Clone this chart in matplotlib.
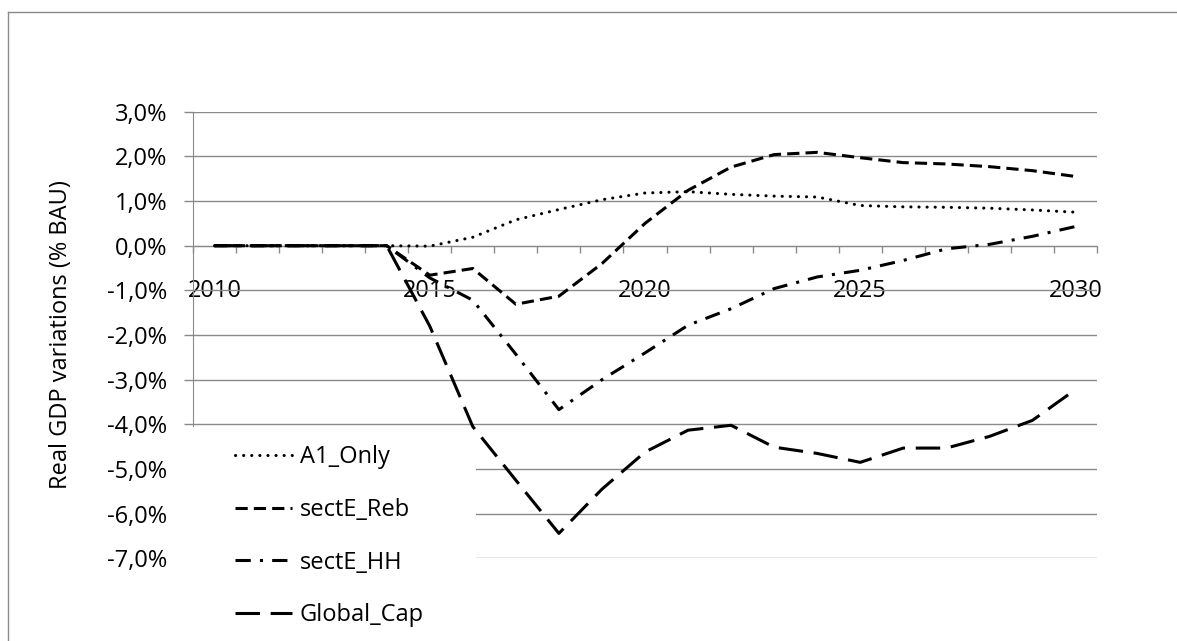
import matplotlib
matplotlib.use('Agg')
import matplotlib.pyplot as plt
from matplotlib.lines import Line2D
from matplotlib.patches import Rectangle
from matplotlib.ticker import FixedLocator, FuncFormatter
import numpy as np

# --- Data (real GDP variation, % of BAU) ---
years = list(range(2010, 2031))
a1_only = [0, 0, 0, 0, 0, -0.01, 0.19, 0.58, 0.81, 1.03, 1.18,
           1.21, 1.15, 1.11, 1.09, 0.90, 0.87, 0.86, 0.84, 0.80, 0.75]
sect_e_reb = [0, 0, 0, 0, 0, -0.66, -0.51, -1.31, -1.13, -0.40, 0.50,
              1.24, 1.76, 2.04, 2.09, 1.97, 1.86, 1.83, 1.77, 1.68, 1.55]
sect_e_hh = [0, 0, 0, 0, 0, -0.72, -1.22, -2.43, -3.67, -3.00, -2.40,
             -1.78, -1.41, -0.96, -0.70, -0.55, -0.33, -0.07, 0.03, 0.21, 0.43]
global_cap = [0, 0, 0, 0, 0, -1.80, -4.05, -5.25, -6.44, -5.45, -4.62,
              -4.13, -4.02, -4.51, -4.65, -4.85, -4.53, -4.53, -4.27, -3.91, -3.22]
series_names = ['A1_Only', 'sectE_Reb', 'sectE_HH', 'Global_Cap']
shown_years = [2010, 2015, 2020, 2025, 2030]

plt.rcParams['font.family'] = ['Open Sans', 'DejaVu Sans']
W, H = 1177, 641
fig = plt.figure(figsize=(W / 100, H / 100), dpi=100)
grid_col = '#8a8a8a'

# plot area in pixel terms (left 193, right 1097, top 111.7, bottom 558.4)
ax = fig.add_axes([193 / W, 1 - 558.4 / H, 904 / W, 446.7 / H])

x = np.arange(len(years))
lw = 2.2
styles = [
    dict(dashes=(0.05, 2.6), dash_capstyle='round'),
    dict(dashes=(4, 2), dash_capstyle='butt'),
    dict(dashes=(5, 3, 1, 3), dash_capstyle='butt'),
    dict(dashes=(8, 3.5), dash_capstyle='butt'),
]
for vals, name, st in zip([a1_only, sect_e_reb, sect_e_hh, global_cap], series_names, styles):
    ax.plot(x, vals, color='black', lw=lw, label=name, zorder=3, **st)

ax.set_xlim(-0.5, len(years) - 0.5)
ax.set_ylim(-7, 3)
ax.set_yticks(np.arange(-7, 3.1, 1))
ax.yaxis.set_major_formatter(FuncFormatter(lambda v, p: f"{v:.1f}%".replace('.', ',')))
ax.grid(axis='y', color=grid_col, lw=1.0)
ax.set_axisbelow(True)

# category axis crossing at zero, labels every 5 years
ax.xaxis.set_major_locator(FixedLocator([years.index(y) for y in shown_years]))
ax.set_xticklabels([str(y) for y in shown_years])
ax.xaxis.set_minor_locator(FixedLocator(np.arange(-0.5, len(years), 1.0)))
ax.tick_params(axis='x', which='major', length=0, pad=24, labelsize=17)
ax.tick_params(axis='x', which='minor', length=5, width=1.0, color=grid_col, direction='out')
ax.tick_params(axis='y', length=6.5, width=1.0, color=grid_col, pad=12, labelsize=17)

for s in ['top', 'right']:
    ax.spines[s].set_visible(False)
ax.spines['bottom'].set_position(('data', 0))
ax.spines['bottom'].set_color(grid_col)
ax.spines['left'].set_color(grid_col)
ax.spines['left'].set_zorder(1)

ax.set_ylabel('Real GDP variations (% BAU)', fontsize=17)
ax.yaxis.set_label_coords(-0.133, 0.5)

# white legend backdrop covering lower-left of the plot area
ax.add_patch(Rectangle((172 / W, 0), (476 - 172) / W, (H - 427) / H,
                       transform=fig.transFigure, facecolor='white',
                       edgecolor='none', clip_on=False, zorder=2))
ax.legend(loc='upper left', bbox_to_anchor=(235 / W, 1 - 445 / H),
          bbox_transform=fig.transFigure, frameon=False, fontsize=17,
          handlelength=2.4, handletextpad=0.35, labelspacing=1.22,
          borderpad=0, borderaxespad=0)

# chart border (top and left edges visible)
fig.add_artist(Line2D([8 / W, 1], [1 - 12 / H, 1 - 12 / H], color=grid_col, lw=1.0))
fig.add_artist(Line2D([8 / W, 8 / W], [0, 1 - 12 / H], color=grid_col, lw=1.0))

fig.savefig('out.png', dpi=100)
